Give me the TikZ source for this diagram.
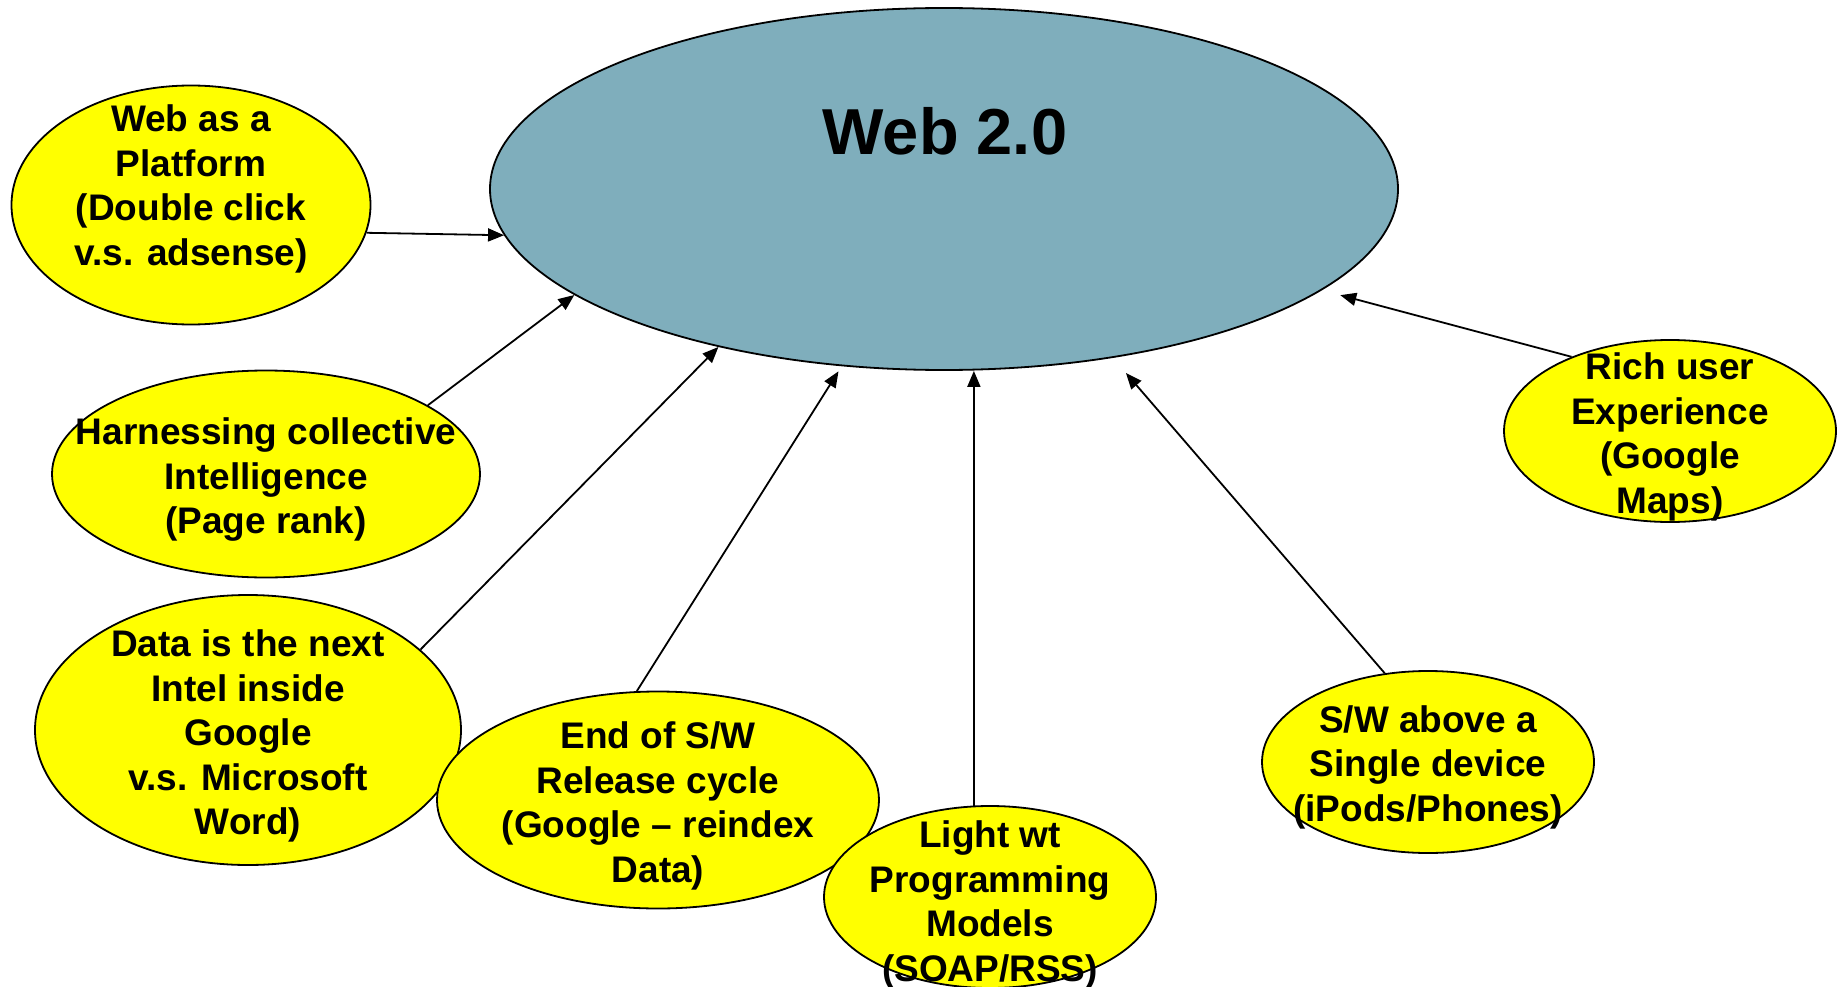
\documentclass[tikz,border=0pt]{standalone}
\usepackage{fontspec}
\setmainfont{Liberation Sans}
\usetikzlibrary{arrows.meta, shapes.geometric}
\definecolor{hubblue}{RGB}{127,174,188}
\definecolor{ideayellow}{RGB}{255,255,0}

\begin{document}
\begin{tikzpicture}[x=1pt, y=-1pt,
    hub/.style={ellipse, draw, line width=1.8pt, fill=hubblue, inner sep=0pt, minimum width=908pt, minimum height=362pt},
    idea/.style={ellipse, draw, line width=1.8pt, fill=ideayellow, inner sep=0pt},
    smallidea/.style={idea, minimum width=332pt, minimum height=182pt},
    ideatext/.style={align=center, inner sep=0pt, font=\bfseries\fontsize{37}{44.5}\selectfont},
    link/.style={-{Triangle[length=16pt, width=13pt]}, line width=1.8pt}]
    \useasboundingbox (0,0) rectangle (1838,987);

    % Central ellipse
    \node[hub] (web) at (944,189) {};
    \node[inner sep=0pt, font=\bfseries\fontsize{65}{78}\selectfont] (webtitle) at (945,131) {Web 2.0};

    % Surrounding ideas
    \node[idea, minimum width=359pt, minimum height=239pt] (platform) at (191,205) {};
    \node[idea, minimum width=428pt, minimum height=207pt] (harness) at (266,474) {};
    \node[idea, minimum width=426pt, minimum height=270pt] (data) at (248,730) {};
    \node[idea, minimum width=442pt, minimum height=217pt] (release) at (658,800) {};
    \node[smallidea] (light) at (990,897) {};
    \node[smallidea] (device) at (1428,762) {};
    \node[smallidea] (rich) at (1670,431) {};

    % Arrows into Web 2.0
    \draw[link] (platform.-9.5) -- (web.186.3);
    \draw[link] (harness.23.7) -- (web.196.3);
    \draw[link] (data.25.8) -- (web.215.9);
    \draw[link, shorten >=6pt] (release.101.7) -- (web.240.1);
    \draw[link] (light.100) -- (light.100 |- web.south);
    \draw[link, shorten >=20pt] (device.116.7) -- (web.315.2);
    \draw[link, shorten >=19pt] (rich.143.8) -- (web.345);

    % Texts
    \node[ideatext] (platformtxt) at ([yshift=16pt]platform.center) {Web as a\\Platform\\(Double click\\v.s. adsense)};
    \node[ideatext] (harnesstxt) at ([yshift=-6pt]harness.center) {Harnessing collective\\Intelligence\\(Page rank)};
    \node[ideatext] (datatxt) at ([yshift=-6pt]data.center) {Data is the next\\Intel inside\\Google\\v.s. Microsoft\\Word)};
    \node[ideatext] (releasetxt) at ([yshift=-6pt]release.center) {End of S/W\\Release cycle\\(Google – reindex\\Data)};
    \node[ideatext] (lighttxt) at ([yshift=-8pt]light.center) {Light wt\\Programming\\Models\\(SOAP/RSS)};
    \node[ideatext] (devicetxt) at ([yshift=-5pt]device.center) {S/W above a\\Single device\\(iPods/Phones)};
    \node[ideatext] (richtxt) at ([yshift=-6pt]rich.center) {Rich user\\Experience\\(Google\\Maps)};
\end{tikzpicture}
\end{document}
